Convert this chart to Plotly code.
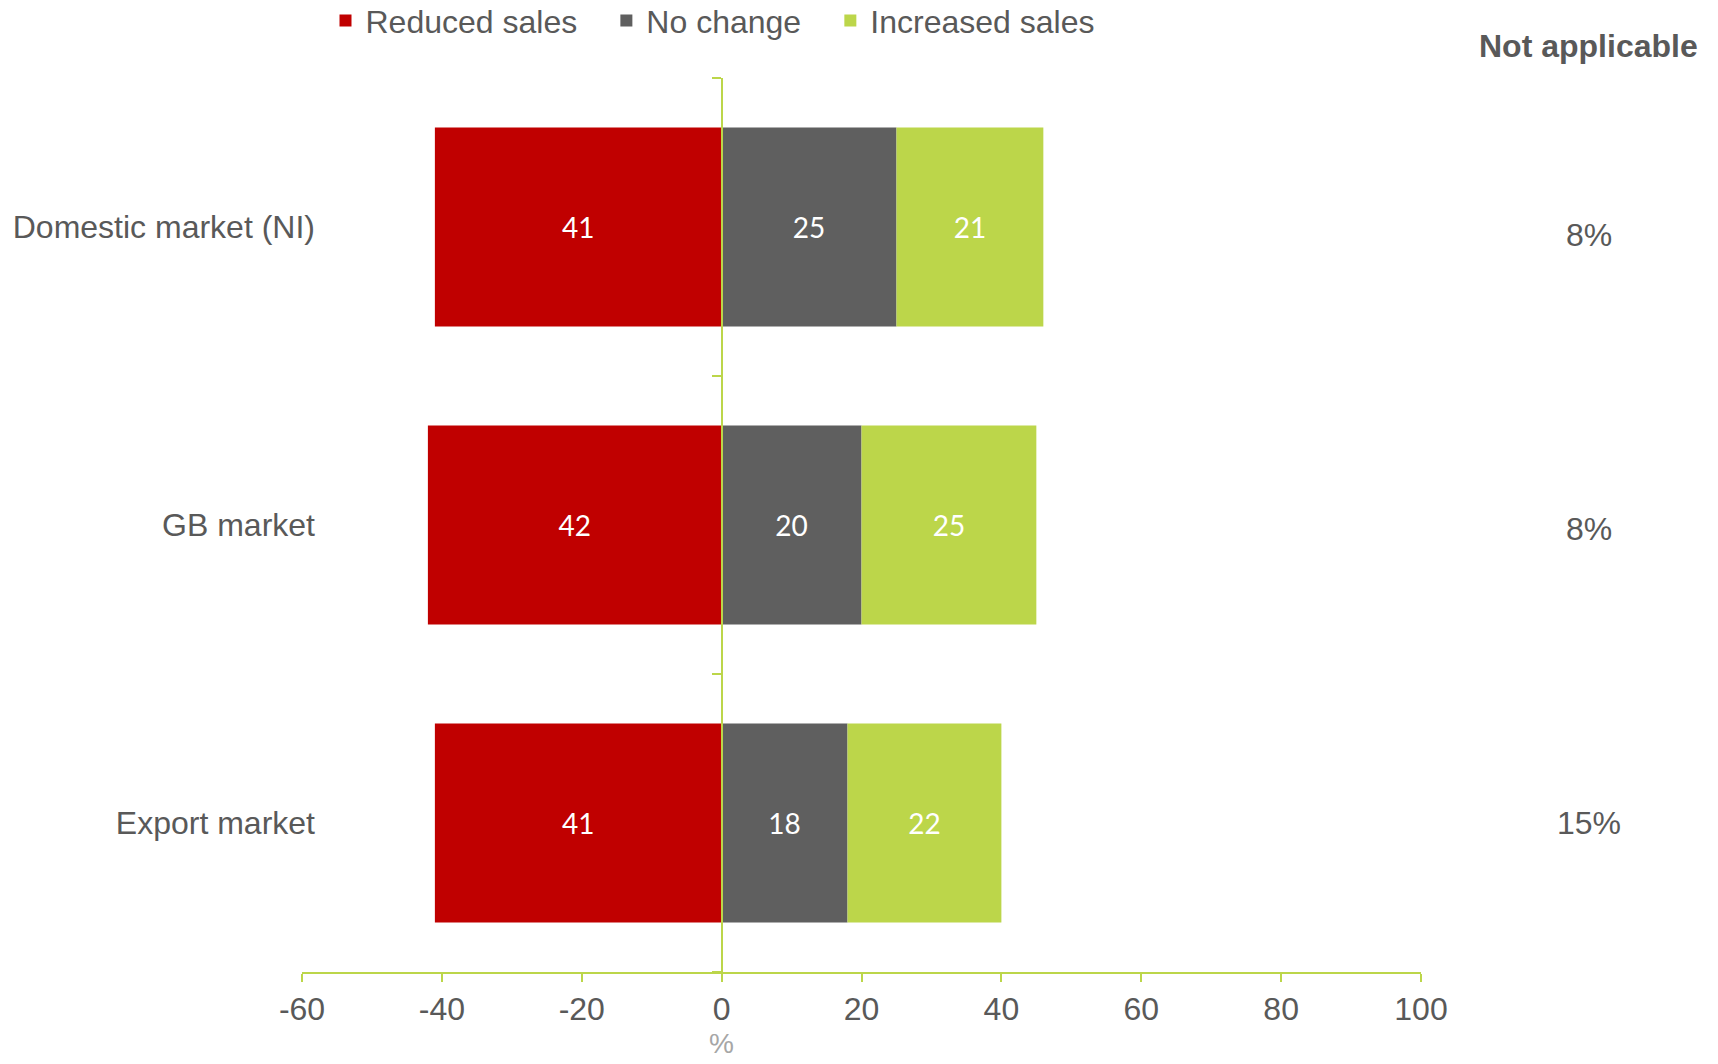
import plotly.graph_objects as go

categories = ["Domestic market (NI)", "GB market", "Export market"]
reduced_sales = [41, 42, 41]
no_change = [25, 20, 18]
increased_sales = [21, 25, 22]
not_applicable = [8, 8, 15]
x_ticks = [-60, -40, -20, 0, 20, 40, 60, 80, 100]
legend_names = ["Reduced sales", "No change", "Increased sales"]

RED = "#C00000"
GRAY = "#5F5F5F"
GREEN = "#BCD64A"
TEXT = "#595959"
FONT = "Liberation Sans, Arial, sans-serif"

W, H = 1718, 1064
ML, MR, MT, MB = 302, 297, 78, 92
XMIN, XMAX = -60, 100
PAD = "\u00a0\u00a0\u2009"

fig = go.Figure()
common = dict(orientation="h", y=categories, textposition="inside",
              insidetextanchor="middle", textangle=0,
              textfont=dict(family="Lato, Open Sans, sans-serif", size=28, color="white"),
              constraintext="none", hoverinfo="skip")
fig.add_trace(go.Bar(name=legend_names[0] + PAD, x=[-v for v in reduced_sales],
                     text=[str(v) for v in reduced_sales], marker=dict(color=RED, line=dict(width=0)), **common))
fig.add_trace(go.Bar(name=legend_names[1] + PAD, x=no_change,
                     text=[str(v) for v in no_change], marker=dict(color=GRAY, line=dict(width=0)), **common))
fig.add_trace(go.Bar(name=legend_names[2], x=increased_sales,
                     text=[str(v) for v in increased_sales], marker=dict(color=GREEN, line=dict(width=0)), **common))
# invisible trace carrying the vertical axis drawn at x = 0
fig.add_trace(go.Scatter(x=[0] * len(categories), y=list(range(len(categories))), yaxis="y2",
                         mode="markers", marker=dict(opacity=0), showlegend=False, hoverinfo="skip"))

zero_pos = (0 - XMIN) / (XMAX - XMIN)
n = len(categories)
boundaries = [i - 0.5 for i in range(n + 1)]

fig.update_layout(
    width=W, height=H,
    margin=dict(l=ML, r=MR, t=MT, b=MB, autoexpand=False),
    paper_bgcolor="white", plot_bgcolor="white",
    barmode="relative", bargap=0.333,
    font=dict(family=FONT, color=TEXT, size=32),
    legend=dict(orientation="h", x=0.021, xanchor="left", y=1.064, yanchor="middle",
                font=dict(size=32, color=TEXT), itemwidth=30, traceorder="normal"),
    xaxis=dict(range=[XMIN, XMAX], tickvals=x_ticks, ticktext=[str(t) for t in x_ticks],
               showgrid=False, zeroline=False, showline=True, linecolor=GREEN, linewidth=2,
               ticks="outside", ticklen=8, tickwidth=2, tickcolor=GREEN,
               tickfont=dict(size=32, color=TEXT)),
    yaxis=dict(type="category", categoryorder="array", categoryarray=categories,
               autorange="reversed", showgrid=False, zeroline=False, showline=False,
               ticks="", tickfont=dict(size=32, color=TEXT), ticklabelstandoff=-14),
    yaxis2=dict(range=[n - 0.5, -0.5], overlaying="y", anchor="free", position=zero_pos,
                side="left", showgrid=False, zeroline=False, showline=True,
                linecolor=GREEN, linewidth=2, ticks="outside", ticklen=9, tickwidth=2,
                tickcolor=GREEN, tickmode="array", tickvals=boundaries,
                showticklabels=False, layer="above traces"),
)

fig.add_annotation(text="%", xref="x", yref="paper", x=0, y=-0.0805,
                   xanchor="center", yanchor="middle", showarrow=False,
                   font=dict(size=28, color="#A6A6A6", family=FONT))
fig.add_annotation(text="<b>Not applicable</b>", xref="paper", yref="paper",
                   x=1.150, y=1.036, xanchor="center", yanchor="middle", showarrow=False,
                   font=dict(size=32, color=TEXT, family=FONT))
for cat, v, ys in zip(categories, not_applicable, [-8, -4, 0]):
    fig.add_annotation(text=f"{v}%", xref="paper", yref="y", x=1.150, y=cat,
                       xanchor="center", yanchor="middle", showarrow=False, yshift=ys,
                       font=dict(size=32, color=TEXT, family=FONT))

fig.write_html("out.html", config={"displayModeBar": False},
               post_script="document.body.style.margin='0';document.body.style.overflow='hidden';")
